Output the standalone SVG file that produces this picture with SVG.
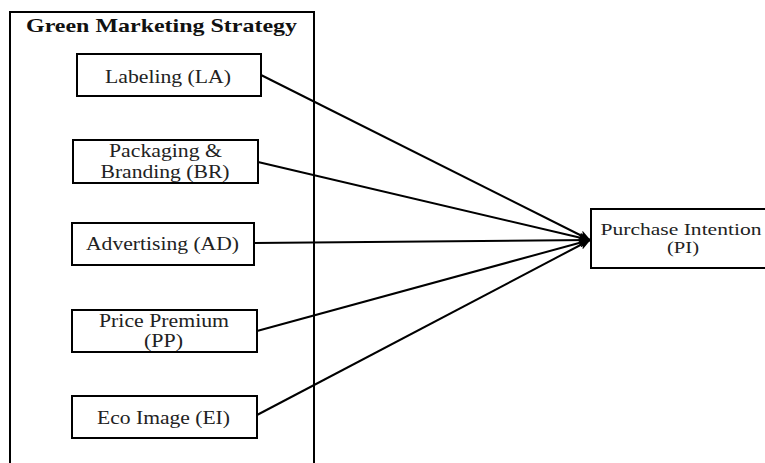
<svg xmlns="http://www.w3.org/2000/svg" width="765" height="463" viewBox="0 0 765 463">
<style>
.box{fill:#fff;stroke:#000;stroke-width:2}
.t{font-family:"Liberation Serif","Times New Roman",serif;font-size:19px;fill:#222;text-anchor:middle}
.s{font-size:17px}
.title{font-family:"Liberation Serif","Times New Roman",serif;font-size:19px;font-weight:bold;fill:#111;text-anchor:middle}
.edge{stroke:#000;stroke-width:2;fill:none}
</style>
<defs>
<marker id="arr" viewBox="0 0 12 10" refX="11" refY="5" markerWidth="12" markerHeight="10" markerUnits="userSpaceOnUse" orient="auto">
<path d="M0,0 L12,5 L0,10 L3,5 Z" fill="#000"/>
</marker>
</defs>
<rect width="765" height="463" fill="#fff"/>
<g id="group-gms">
<rect class="box" x="10" y="12" width="304" height="460"/>
<text class="title" x="161.5" y="31.5" textLength="271" lengthAdjust="spacingAndGlyphs">Green Marketing Strategy</text>
</g>
<g id="edges">
<line class="edge" x1="261" y1="75" x2="590" y2="240" marker-end="url(#arr)"/>
<line class="edge" x1="258" y1="162" x2="590" y2="240" marker-end="url(#arr)"/>
<line class="edge" x1="254" y1="243" x2="590" y2="240" marker-end="url(#arr)"/>
<line class="edge" x1="257" y1="331" x2="590" y2="240" marker-end="url(#arr)"/>
<line class="edge" x1="257" y1="415" x2="590" y2="240" marker-end="url(#arr)"/>
</g>
<g id="node-la">
<rect class="box" x="77" y="54" width="184" height="42"/>
<text class="t" x="168" y="82.5" textLength="126" lengthAdjust="spacingAndGlyphs">Labeling (LA)</text>
</g>
<g id="node-br">
<rect class="box" x="73" y="140" width="185" height="43"/>
<text class="t" x="165.5" y="156.5" textLength="113" lengthAdjust="spacingAndGlyphs">Packaging &amp;</text>
<text class="t" x="165" y="178" textLength="129" lengthAdjust="spacingAndGlyphs">Branding (BR)</text>
</g>
<g id="node-ad">
<rect class="box" x="72" y="223" width="182" height="42"/>
<text class="t" x="162.5" y="250" textLength="153" lengthAdjust="spacingAndGlyphs">Advertising (AD)</text>
</g>
<g id="node-pp">
<rect class="box" x="72" y="310" width="185" height="42"/>
<text class="t" x="164" y="326.5" textLength="130" lengthAdjust="spacingAndGlyphs">Price Premium</text>
<text class="t" x="163.5" y="346.5" textLength="39" lengthAdjust="spacingAndGlyphs">(PP)</text>
</g>
<g id="node-ei">
<rect class="box" x="72" y="396" width="185" height="42"/>
<text class="t" x="163.5" y="424" textLength="133" lengthAdjust="spacingAndGlyphs">Eco Image (EI)</text>
</g>
<g id="node-pi">
<rect class="box" x="591" y="209" width="180" height="59"/>
<text class="t s" x="681" y="235" textLength="161" lengthAdjust="spacingAndGlyphs">Purchase Intention</text>
<text class="t s" x="683" y="253" textLength="32" lengthAdjust="spacingAndGlyphs">(PI)</text>
</g>
</svg>
